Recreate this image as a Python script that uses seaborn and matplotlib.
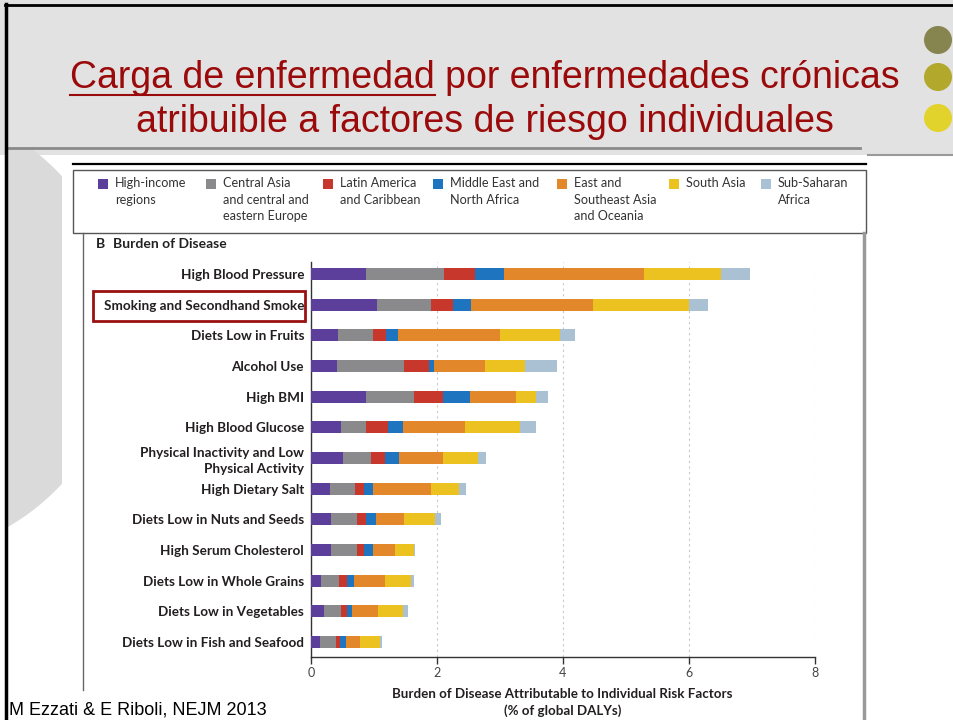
import matplotlib
matplotlib.use('Agg')
import matplotlib.pyplot as plt
import seaborn as sns
import pandas as pd
import numpy as np
from matplotlib.patches import Rectangle, Circle

# risk factors, top to bottom
factors = ['High Blood Pressure', 'Smoking and Secondhand Smoke', 'Diets Low in Fruits',
           'Alcohol Use', 'High BMI', 'High Blood Glucose',
           'Physical Inactivity and Low\nPhysical Activity', 'High Dietary Salt',
           'Diets Low in Nuts and Seeds', 'High Serum Cholesterol',
           'Diets Low in Whole Grains', 'Diets Low in Vegetables',
           'Diets Low in Fish and Seafood']

# % of global DALYs per region
high_income = [0.87, 1.05, 0.43, 0.41, 0.88, 0.47, 0.51, 0.30, 0.32, 0.32, 0.16, 0.20, 0.15]
central_asia = [1.25, 0.85, 0.55, 1.06, 0.75, 0.40, 0.44, 0.40, 0.41, 0.41, 0.29, 0.28, 0.25]
latin_america = [0.48, 0.35, 0.21, 0.40, 0.46, 0.35, 0.22, 0.14, 0.15, 0.12, 0.12, 0.09, 0.06]
middle_east = [0.46, 0.30, 0.20, 0.08, 0.43, 0.24, 0.23, 0.15, 0.15, 0.13, 0.12, 0.08, 0.09]
east_asia = [2.23, 1.93, 1.61, 0.81, 0.73, 0.98, 0.69, 0.91, 0.45, 0.36, 0.48, 0.42, 0.23]
south_asia = [1.23, 1.52, 0.95, 0.64, 0.32, 0.88, 0.56, 0.45, 0.49, 0.29, 0.42, 0.39, 0.32]
sub_saharan = [0.46, 0.31, 0.24, 0.51, 0.20, 0.26, 0.13, 0.11, 0.09, 0.02, 0.05, 0.08, 0.03]

region_labels = ['High-income\nregions', 'Central Asia\nand central and\neastern Europe',
                 'Latin America\nand Caribbean', 'Middle East and\nNorth Africa',
                 'East and\nSoutheast Asia\nand Oceania', 'South Asia', 'Sub-Saharan\nAfrica']
region_colors = ['#5b3f9b', '#8a8a8c', '#c8372b', '#1f74bf', '#e3882a', '#ecc220', '#a9c1d2']
x_ticks = [0, 2, 4, 6, 8]

df = pd.DataFrame({'factor': factors, 'hi': high_income, 'ca': central_asia,
                   'la': latin_america, 'me': middle_east, 'ea': east_asia,
                   'sa': south_asia, 'ssa': sub_saharan})
cols = ['hi', 'ca', 'la', 'me', 'ea', 'sa', 'ssa']
cum = df[cols].cumsum(axis=1)
cum['factor'] = df['factor']

W, H = 954, 720
fig = plt.figure(figsize=(W / 100, H / 100), dpi=100)
fig.patch.set_facecolor('white')

# background / slide decoration in pixel coordinates
bg = fig.add_axes([0, 0, 1, 1], zorder=0)
bg.set_xlim(0, W)
bg.set_ylim(H, 0)
bg.axis('off')

bg.add_patch(Rectangle((0, 0), W, 155, color='#e2e2e2', lw=0))
blob = Circle((-105, 330), 227, color='#dadada', lw=0)
bg.add_patch(blob)
clip = Rectangle((6, 148), 60, 500, transform=bg.transData)
blob.set_clip_path(clip)
bg.add_patch(Rectangle((62, 155), 806, 565, color='white', lw=0))
bg.plot([7, 860], [148, 148], color='#8a8a8a', lw=2)
bg.plot([868, W], [155, 155], color='#9a9a9a', lw=1.5)
bg.plot([6, 6], [4, H], color='black', lw=2.5)
bg.plot([5, W], [5, 5], color='black', lw=2)

for cy, c in zip([40, 77, 118], ['#86854f', '#b2a82b', '#e2d32c']):
    bg.add_patch(Circle((938, cy), 14, color=c, lw=0))

title_kw = dict(family='Liberation Sans', fontsize=27, color='#9b0a0a', va='center')
line1a = 'Carga de enfermedad'
line1 = line1a + ' por enfermedades crónicas'
r = fig.canvas.get_renderer()
t_full = bg.text(0, 78, line1, **title_kw)
w_full = t_full.get_window_extent(r).width
x0 = 485 - w_full / 2
t_full.set_x(x0)
t_sub = bg.text(0, 300, line1a, **title_kw)
w_sub = t_sub.get_window_extent(r).width
t_sub.remove()
bg.plot([x0, x0 + w_sub], [95, 95], color='#9b0a0a', lw=1.5)
bg.text(485, 122, 'atribuible a factores de riesgo individuales', ha='center', **title_kw)

# figure panel frame
bg.plot([73, 866], [164, 164], color='black', lw=1.6)
bg.add_patch(Rectangle((73, 170), 793, 63, fill=False, ec='#555555', lw=1.0))
bg.plot([83, 83], [233, 690], color='#666666', lw=1.0)
bg.plot([864, 864], [233, H], color='#999999', lw=2.5)
bg.text(96, 244, 'B', family='Lato', fontweight='bold', fontsize=10, color='#222222', va='center')
bg.text(113, 244, 'Burden of Disease', family='Lato', fontweight='bold', fontsize=10,
        color='#222222', va='center')

# legend
leg_x = [103, 211, 328, 438, 562, 674, 766]
for lx, lab, c in zip(leg_x, region_labels, region_colors):
    bg.add_patch(Rectangle((lx - 5, 179), 10, 10, color=c, lw=0))
    bg.text(lx + 12, 177, lab, family='Lato', fontsize=9.1, color='#333333',
            va='top', ha='left', linespacing=1.45)

bg.add_patch(Rectangle((93, 291), 212, 30, fill=False, ec='#9b1010', lw=2))
bg.text(9, 710, 'M Ezzati & E Riboli, NEJM 2013', family='Liberation Sans',
        fontsize=13, color='black', va='center')

# main chart
ax = fig.add_axes([311 / W, 1 - 657 / H, (814.5 - 311) / W, (657 - 262) / H], zorder=2)
ax.set_facecolor('none')
for col, c in reversed(list(zip(cols, region_colors))):
    sns.barplot(data=cum, x=col, y='factor', order=factors, orient='h', color=c,
                saturation=1, width=0.39, errorbar=None, ax=ax, linewidth=0, zorder=3)

ax.set_xlim(0, 8)
ax.set_ylim(12.49, -0.39)
ax.set_xticks(x_ticks)
ax.set_xticklabels([str(v) for v in x_ticks], family='Lato', fontsize=9, color='#444444')
ax.xaxis.grid(True, ls=(0, (2, 3)), color='#c8c8c8', lw=0.8, zorder=0)
ax.set_axisbelow(True)
ax.tick_params(axis='x', length=5, width=1, color='#333333', pad=2)
ax.tick_params(axis='y', length=0, pad=5)
for lbl in ax.get_yticklabels():
    lbl.set_family('Lato')
    lbl.set_fontweight('bold')
    lbl.set_fontsize(9.7)
    lbl.set_color('#231f20')
    lbl.set_linespacing(1.4)
ax.set_ylabel('')
ax.set_xlabel('Burden of Disease Attributable to Individual Risk Factors\n(% of global DALYs)',
              family='Lato', fontweight='bold', fontsize=9.6, color='#231f20',
              labelpad=7, linespacing=1.4)
for s in ['top', 'right']:
    ax.spines[s].set_visible(False)
for s in ['left', 'bottom']:
    ax.spines[s].set_color('#333333')
    ax.spines[s].set_linewidth(1)

fig.savefig('out.png', dpi=100)
